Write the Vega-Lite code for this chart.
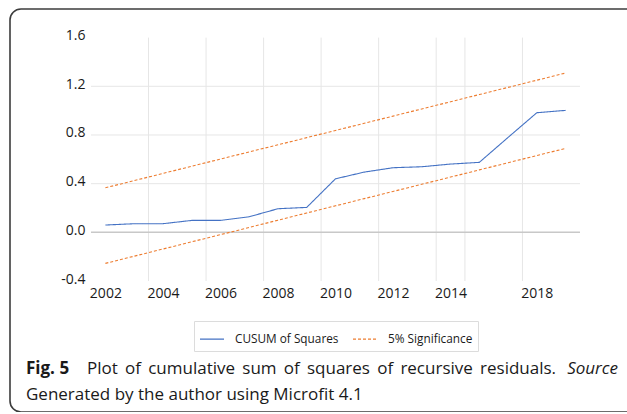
{
  "$schema": "https://vega.github.io/schema/vega-lite/v6.json",
  "width": 627,
  "height": 403,
  "autosize": {"type": "none"},
  "padding": {"left": 10, "top": 9, "right": -10, "bottom": 0},
  "background": "white",
  "config": {
    "view": {"stroke": "#3c3c3c", "strokeWidth": 1.6, "cornerRadius": 11, "fill": "white"},
    "font": "Open Sans"
  },
  "layer": [
    {
      "data": {"values": [{"g": 2003.5}, {"g": 2005.5}, {"g": 2007.5}, {"g": 2009.5}, {"g": 2011.5}, {"g": 2013.5}, {"g": 2014.5}, {"g": 2016.5}]},
      "mark": {"type": "rule", "color": "#e6e6e6", "strokeWidth": 1},
      "encoding": {
        "x": {"field": "g", "type": "quantitative"},
        "y": {"datum": -0.4},
        "y2": {"datum": 1.6}
      }
    },
    {
      "data": {"values": [{"h": 0.4}, {"h": 0.8}, {"h": 1.2}]},
      "mark": {"type": "rule", "color": "#e6e6e6", "strokeWidth": 1},
      "encoding": {
        "y": {"field": "h", "type": "quantitative"},
        "x": {"datum": 2001.5},
        "x2": {"datum": 2018.5}
      }
    },
    {
      "data": {"values": [{"h": 0}]},
      "mark": {"type": "rule", "color": "#c8c8c8", "strokeWidth": 1.5},
      "encoding": {
        "y": {"field": "h", "type": "quantitative"},
        "x": {"datum": 2001.5},
        "x2": {"datum": 2018.5}
      }
    },
    {
      "data": {"values": [
        {"year": 2002, "series": "CUSUM of Squares", "line": "cusum", "value": 0.06},
        {"year": 2003, "series": "CUSUM of Squares", "line": "cusum", "value": 0.071},
        {"year": 2004, "series": "CUSUM of Squares", "line": "cusum", "value": 0.071},
        {"year": 2005, "series": "CUSUM of Squares", "line": "cusum", "value": 0.098},
        {"year": 2006, "series": "CUSUM of Squares", "line": "cusum", "value": 0.098},
        {"year": 2007, "series": "CUSUM of Squares", "line": "cusum", "value": 0.128},
        {"year": 2008, "series": "CUSUM of Squares", "line": "cusum", "value": 0.194},
        {"year": 2009, "series": "CUSUM of Squares", "line": "cusum", "value": 0.205},
        {"year": 2010, "series": "CUSUM of Squares", "line": "cusum", "value": 0.44},
        {"year": 2011, "series": "CUSUM of Squares", "line": "cusum", "value": 0.495},
        {"year": 2012, "series": "CUSUM of Squares", "line": "cusum", "value": 0.531},
        {"year": 2013, "series": "CUSUM of Squares", "line": "cusum", "value": 0.539},
        {"year": 2014, "series": "CUSUM of Squares", "line": "cusum", "value": 0.561},
        {"year": 2015, "series": "CUSUM of Squares", "line": "cusum", "value": 0.575},
        {"year": 2016, "series": "CUSUM of Squares", "line": "cusum", "value": 0.78},
        {"year": 2017, "series": "CUSUM of Squares", "line": "cusum", "value": 0.983},
        {"year": 2018, "series": "CUSUM of Squares", "line": "cusum", "value": 1.002},
        {"year": 2002, "series": "5% Significance", "line": "upper", "value": 0.366},
        {"year": 2003, "series": "5% Significance", "line": "upper", "value": 0.425},
        {"year": 2004, "series": "5% Significance", "line": "upper", "value": 0.484},
        {"year": 2005, "series": "5% Significance", "line": "upper", "value": 0.543},
        {"year": 2006, "series": "5% Significance", "line": "upper", "value": 0.602},
        {"year": 2007, "series": "5% Significance", "line": "upper", "value": 0.661},
        {"year": 2008, "series": "5% Significance", "line": "upper", "value": 0.719},
        {"year": 2009, "series": "5% Significance", "line": "upper", "value": 0.778},
        {"year": 2010, "series": "5% Significance", "line": "upper", "value": 0.837},
        {"year": 2011, "series": "5% Significance", "line": "upper", "value": 0.896},
        {"year": 2012, "series": "5% Significance", "line": "upper", "value": 0.955},
        {"year": 2013, "series": "5% Significance", "line": "upper", "value": 1.014},
        {"year": 2014, "series": "5% Significance", "line": "upper", "value": 1.073},
        {"year": 2015, "series": "5% Significance", "line": "upper", "value": 1.132},
        {"year": 2016, "series": "5% Significance", "line": "upper", "value": 1.191},
        {"year": 2017, "series": "5% Significance", "line": "upper", "value": 1.25},
        {"year": 2018, "series": "5% Significance", "line": "upper", "value": 1.309},
        {"year": 2002, "series": "5% Significance", "line": "lower", "value": -0.255},
        {"year": 2003, "series": "5% Significance", "line": "lower", "value": -0.196},
        {"year": 2004, "series": "5% Significance", "line": "lower", "value": -0.137},
        {"year": 2005, "series": "5% Significance", "line": "lower", "value": -0.078},
        {"year": 2006, "series": "5% Significance", "line": "lower", "value": -0.019},
        {"year": 2007, "series": "5% Significance", "line": "lower", "value": 0.04},
        {"year": 2008, "series": "5% Significance", "line": "lower", "value": 0.1},
        {"year": 2009, "series": "5% Significance", "line": "lower", "value": 0.159},
        {"year": 2010, "series": "5% Significance", "line": "lower", "value": 0.218},
        {"year": 2011, "series": "5% Significance", "line": "lower", "value": 0.277},
        {"year": 2012, "series": "5% Significance", "line": "lower", "value": 0.336},
        {"year": 2013, "series": "5% Significance", "line": "lower", "value": 0.395},
        {"year": 2014, "series": "5% Significance", "line": "lower", "value": 0.454},
        {"year": 2015, "series": "5% Significance", "line": "lower", "value": 0.513},
        {"year": 2016, "series": "5% Significance", "line": "lower", "value": 0.572},
        {"year": 2017, "series": "5% Significance", "line": "lower", "value": 0.631},
        {"year": 2018, "series": "5% Significance", "line": "lower", "value": 0.69}
      ]},
      "mark": {"type": "line", "strokeWidth": 1.1},
      "encoding": {
        "x": {
          "field": "year", "type": "quantitative",
          "scale": {"domain": [1998.684, 2020.482], "nice": false, "zero": false},
          "axis": {
            "title": null, "values": [2002, 2004, 2006, 2008, 2010, 2012, 2014, 2017],
            "labelExpr": "datum.value == 2017 ? '2018' : format(datum.value, 'd')",
            "offset": -131, "domain": false, "ticks": false, "grid": false,
            "labelPadding": 5, "labelFont": "Open Sans", "labelFontSize": 14, "labelColor": "#1a1a1a"
          }
        },
        "y": {
          "field": "value", "type": "quantitative",
          "scale": {"domain": [-1.476, 1.835], "nice": false, "zero": false},
          "axis": {
            "title": null, "values": [-0.4, 0, 0.4, 0.8, 1.2, 1.6],
            "labelExpr": "replace(format(datum.value, '.1f'), '\u2212', '-')",
            "offset": -81, "domain": false, "ticks": false, "grid": false,
            "labelPadding": 6, "labelOffset": -2, "labelFont": "Open Sans", "labelFontSize": 14, "labelColor": "#1a1a1a"
          }
        },
        "color": {
          "field": "series", "type": "nominal",
          "scale": {"domain": ["CUSUM of Squares", "5% Significance"], "range": ["#4472c4", "#ed7d31"]},
          "legend": {
            "title": null, "orient": "none", "legendX": 184, "legendY": 312, "direction": "horizontal",
            "strokeColor": "#dcdcdc", "fillColor": "white", "padding": 5,
            "symbolType": "stroke", "symbolSize": 576, "symbolStrokeWidth": 1.2,
            "labelFont": "Open Sans", "labelFontSize": 11.8, "labelColor": "#1a1a1a",
            "labelOffset": 10, "columnPadding": 11
          }
        },
        "strokeDash": {
          "field": "series", "type": "nominal",
          "scale": {"domain": ["CUSUM of Squares", "5% Significance"], "range": [[1, 0], [3, 2]]},
          "legend": {
            "title": null, "orient": "none", "legendX": 184, "legendY": 312, "direction": "horizontal",
            "strokeColor": "#dcdcdc", "fillColor": "white", "padding": 5,
            "symbolType": "stroke", "symbolSize": 576, "symbolStrokeWidth": 1.2,
            "labelFont": "Open Sans", "labelFontSize": 11.8, "labelColor": "#1a1a1a",
            "labelOffset": 10, "columnPadding": 11
          }
        },
        "detail": {"field": "line", "type": "nominal"}
      }
    },
    {
      "data": {"values": [{}]},
      "mark": {"type": "text", "text": "Fig. 5", "font": "Open Sans", "fontWeight": "bold", "fontSize": 17, "align": "left", "baseline": "alphabetic", "color": "#1a1a1a"},
      "encoding": {"x": {"datum": 1999.24}, "y": {"datum": -1.164}}
    },
    {
      "data": {"values": [{}]},
      "mark": {"type": "text", "text": "Plot \u2009of \u2009cumulative \u2009sum \u2009of \u2009squares \u2009of \u2009recursive \u2009residuals.", "font": "Open Sans", "fontSize": 17, "align": "left", "baseline": "alphabetic", "color": "#1a1a1a"},
      "encoding": {"x": {"datum": 2001.36}, "y": {"datum": -1.164}}
    },
    {
      "data": {"values": [{}]},
      "mark": {"type": "text", "text": "Source", "font": "Open Sans", "fontStyle": "italic", "fontSize": 17, "align": "right", "baseline": "alphabetic", "color": "#1a1a1a"},
      "encoding": {"x": {"datum": 2019.82}, "y": {"datum": -1.164}}
    },
    {
      "data": {"values": [{}]},
      "mark": {"type": "text", "text": "Generated by the author using Microfit 4.1", "font": "Open Sans", "fontSize": 17, "align": "left", "baseline": "alphabetic", "color": "#1a1a1a"},
      "encoding": {"x": {"datum": 1999.24}, "y": {"datum": -1.378}}
    }
  ]
}
